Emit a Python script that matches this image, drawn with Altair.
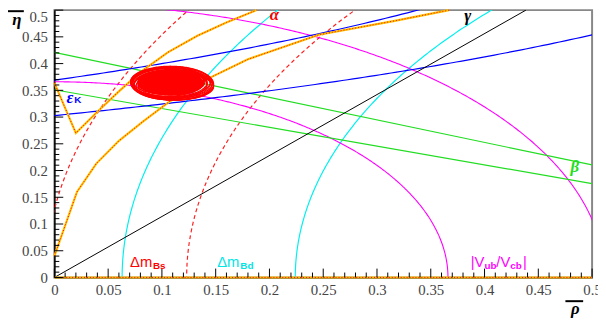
import altair as alt
import numpy as np
import pandas as pd

W, H = 545, 271

# ---- constraint parameters ----
DMD_RADII = [0.937, 0.776]          # cyan circles centred on (1, 0)
DMS_RADII = [1.008, 0.877]          # red dashed circles centred on (1, 0)
VUB_RADII = [0.366, 0.5116]         # magenta circles centred on (0, 0)
BETA_INTERCEPTS = [0.421, 0.351]    # green lines through (1, 0): eta at rho = 0
GAMMA_RHO_AT_TOP = [0.4385]         # black line from origin reaching eta = 0.5
EPSK_A = [1.29, 1.503]              # blue hyperbolas eta = b / (a - rho)
EPSK_B = [0.476, 0.455]

ALPHA_A_RHO = [0.0, 0.020, 0.040, 0.060, 0.080, 0.1055, 0.133, 0.160, 0.188]
ALPHA_A_ETA = [0.364, 0.270, 0.310, 0.348, 0.384, 0.421, 0.452, 0.477, 0.500]
ALPHA_B_RHO = [0.0, 0.021, 0.039, 0.060, 0.0826, 0.107, 0.142, 0.180, 0.246, 0.3165, 0.367]
ALPHA_B_ETA = [0.040, 0.160, 0.213, 0.2555, 0.292, 0.329, 0.371, 0.408, 0.454, 0.480, 0.500]
ALPHA_AXIS_RHO = [0.0, 0.5]
ALPHA_AXIS_ETA = [0.0, 0.0]

# fit contours (centre rho, centre eta, half width, half height)
ELL_CX = [0.108, 0.109, 0.110, 0.111, 0.107, 0.108, 0.110, 0.106, 0.112, 0.109, 0.108, 0.108,
          0.113, 0.105, 0.110, 0.109]
ELL_CY = [0.366, 0.364, 0.362, 0.360, 0.365, 0.362, 0.359, 0.367, 0.358, 0.366, 0.364, 0.365,
          0.357, 0.366, 0.361, 0.363]
ELL_A = [0.037, 0.038, 0.038, 0.037, 0.035, 0.034, 0.036, 0.033, 0.036, 0.031, 0.028, 0.022,
         0.035, 0.034, 0.032, 0.036]
ELL_B = [0.029, 0.030, 0.030, 0.028, 0.027, 0.026, 0.027, 0.025, 0.026, 0.023, 0.021, 0.016,
         0.025, 0.027, 0.024, 0.028]
CORE = [0.108, 0.364, 0.031, 0.024]

LABEL_TICKS = [0, 0.05, 0.1, 0.15, 0.2, 0.25, 0.3, 0.35, 0.4, 0.45, 0.5]
MINOR_TICKS = [round(i * 0.01, 2) for i in range(51) if i % 5 != 0]

# labels
GREEK_TXT = ["α", "γ", "β", "ε", "η", "ρ"]
GREEK_RHO = [0.2046, 0.3844, 0.4839, 0.0144, -0.0349, 0.4844]
GREEK_ETA = [0.4815, 0.4797, 0.1974, 0.3266, 0.4723, -0.0683]
GREEK_COL = ["#ff0000", "#000000", "#22dd22", "#0000ff", "#000000", "#000000"]

MAIN_TXT = ["Δm", "Δm", "|V", "/V", "|"]
MAIN_RHO = [0.0704, 0.1514, 0.3872, 0.4110, 0.4358]
MAIN_ETA = [0.0197, 0.0197, 0.0197, 0.0197, 0.0197]
MAIN_COL = ["#ff0000", "#00e5e5", "#ff00ff", "#ff00ff", "#ff00ff"]

SUB_TXT = ["K", "Bs", "Bd", "ub", "cb"]
SUB_RHO = [0.0184, 0.0917, 0.1729, 0.4000, 0.4239]
SUB_ETA = [0.3257, 0.0157, 0.0157, 0.0157, 0.0157]
SUB_COL = ["#0000ff", "#ff0000", "#00e5e5", "#ff00ff", "#ff00ff"]

BAR_RHO = [-0.044, 0.4752]
BAR_RHO2 = [-0.0284, 0.4917]
BAR_ETA = [0.498, -0.0443]

# ---- build curve tables ----
def rows(cid, xs, ys):
    return pd.DataFrame({"id": cid, "i": np.arange(len(xs)), "rho": xs, "eta": ys})

t_left = np.linspace(np.pi / 2, np.pi, 300)
t_q1 = np.linspace(0, np.pi / 2, 300)
t_full = np.linspace(0, 2 * np.pi, 200)

cyan = pd.concat([rows(k, 1 + r * np.cos(t_left), r * np.sin(t_left)) for k, r in enumerate(DMD_RADII)])
reddash = pd.concat([rows(k, 1 + r * np.cos(t_left), r * np.sin(t_left)) for k, r in enumerate(DMS_RADII)])
magenta = pd.concat([rows(k, r * np.cos(t_q1), r * np.sin(t_q1)) for k, r in enumerate(VUB_RADII)])
green = pd.concat([rows(k, np.array([0.0, 0.5]), np.array([b, b / 2])) for k, b in enumerate(BETA_INTERCEPTS)])
black = pd.concat([rows(k, np.array([0.0, g]), np.array([0.0, 0.5])) for k, g in enumerate(GAMMA_RHO_AT_TOP)])
rr = np.linspace(0, 0.5, 100)
blue = pd.concat([rows(k, rr, b / (a - rr)) for k, (a, b) in enumerate(zip(EPSK_A, EPSK_B))])
alpha = pd.concat([
    rows(0, np.array(ALPHA_A_RHO), np.array(ALPHA_A_ETA)),
    rows(1, np.array(ALPHA_B_RHO), np.array(ALPHA_B_ETA)),
    rows(2, np.array(ALPHA_AXIS_RHO), np.array(ALPHA_AXIS_ETA)),
])
ell = pd.concat([rows(k, cx + a * np.cos(t_full), cy + b * np.sin(t_full))
                 for k, (cx, cy, a, b) in enumerate(zip(ELL_CX, ELL_CY, ELL_A, ELL_B))])
tc = np.linspace(np.pi, 0, 120)
core = pd.DataFrame({
    "rho": CORE[0] + CORE[2] * np.cos(tc),
    "lo": CORE[1] - CORE[3] * np.sin(tc),
    "hi": CORE[1] + CORE[3] * np.sin(tc),
})

greek = pd.DataFrame({"t": GREEK_TXT, "rho": GREEK_RHO, "eta": GREEK_ETA, "c": GREEK_COL})
mainlab = pd.DataFrame({"t": MAIN_TXT, "rho": MAIN_RHO, "eta": MAIN_ETA, "c": MAIN_COL})
sublab = pd.DataFrame({"t": SUB_TXT, "rho": SUB_RHO, "eta": SUB_ETA, "c": SUB_COL})
bars = pd.DataFrame({"rho": BAR_RHO, "rho2": BAR_RHO2, "eta": BAR_ETA})
major = pd.DataFrame({"v": LABEL_TICKS})
minor = pd.DataFrame({"v": MINOR_TICKS})

xs = alt.Scale(domain=[0, 0.5], nice=False, zero=False)
ys = alt.Scale(domain=[0, 0.5], nice=False, zero=False)

LABEL_FONT = "Liberation Serif"

x_main = alt.Axis(orient="bottom", values=LABEL_TICKS, format="~g", ticks=False, grid=False,
                  domainColor="black", domainWidth=1, labelFont=LABEL_FONT, labelFontSize=15,
                  labelColor="#444444", labelPadding=5, title=None, labelFlush=False,
                  labelOverlap=False, labelBound=False)
y_main = alt.Axis(orient="left", values=LABEL_TICKS, format="~g", ticks=False, grid=False,
                  domainColor="black", domainWidth=1.5, labelFont=LABEL_FONT, labelFontSize=15,
                  labelColor="#444444", labelPadding=7, title=None, labelFlush=False,
                  labelOverlap=False, labelBound=False,
                  labelBaseline={"condition": {"test": "datum.value > 0.49", "value": "top"},
                                 "value": "middle"})


def lines(df, color, width=1.0, dash=None, clip=True, xaxis=None, yaxis=None):
    kw = dict(color=color, strokeWidth=width, clip=clip)
    if dash:
        kw["strokeDash"] = dash
    return alt.Chart(df).mark_line(**kw).encode(
        x=alt.X("rho:Q", scale=xs, axis=xaxis),
        y=alt.Y("eta:Q", scale=ys, axis=yaxis),
        detail="id:N",
        order="i:Q",
    )


def xticks(df, length):
    return alt.Chart(df).mark_rule(color="black", strokeWidth=1).encode(
        x=alt.X("v:Q", scale=xs, axis=None), y=alt.value(H), y2=alt.value(H - length))


def yticks(df, length):
    return alt.Chart(df).mark_rule(color="black", strokeWidth=1).encode(
        y=alt.Y("v:Q", scale=ys, axis=None), x=alt.value(0), x2=alt.value(length))


L_cyan = lines(cyan, "#00f0f0", 1.2, xaxis=x_main, yaxis=y_main)
L_red = lines(reddash, "#ff2020", 1.2, dash=[4, 3])
L_mag = lines(magenta, "#ff00ff", 1.1)
L_green = lines(green, "#22dd22", 1.2)
L_blue = lines(blue, "#0000ff", 1.2)
L_black = lines(black, "#000000", 1.0)
L_alpha1 = lines(alpha, "#ffc000", 2.2, clip=False)
L_alpha2 = lines(alpha, "#ff0000", 1.0, dash=[1, 2], clip=False)
L_ell = lines(ell, "#ff0000", 1.3)
A_core = alt.Chart(core).mark_area(color="#ff0000", clip=True).encode(
    x=alt.X("rho:Q", scale=xs, axis=None),
    y=alt.Y("lo:Q", scale=ys, axis=None),
    y2="hi:Q",
)

T_greek = alt.Chart(greek).mark_text(font=LABEL_FONT, fontSize=17, fontStyle="italic",
                                     fontWeight="bold", align="center", baseline="alphabetic").encode(
    x=alt.X("rho:Q", scale=xs, axis=None), y=alt.Y("eta:Q", scale=ys, axis=None),
    text="t:N", color=alt.Color("c:N", scale=None))
T_main = alt.Chart(mainlab).mark_text(font="Liberation Sans", fontSize=15, align="left",
                                      baseline="alphabetic").encode(
    x=alt.X("rho:Q", scale=xs, axis=None), y=alt.Y("eta:Q", scale=ys, axis=None),
    text="t:N", color=alt.Color("c:N", scale=None))
T_sub = alt.Chart(sublab).mark_text(font="Liberation Sans", fontSize=10, fontWeight="bold",
                                    align="left", baseline="alphabetic").encode(
    x=alt.X("rho:Q", scale=xs, axis=None), y=alt.Y("eta:Q", scale=ys, axis=None),
    text="t:N", color=alt.Color("c:N", scale=None))
R_bars = alt.Chart(bars).mark_rule(color="black", strokeWidth=2).encode(
    x=alt.X("rho:Q", scale=xs, axis=None), x2="rho2:Q",
    y=alt.Y("eta:Q", scale=ys, axis=None))

chart = alt.layer(
    L_cyan, L_red, L_mag, L_green, L_blue, L_black, L_alpha1, L_alpha2, A_core, L_ell,
    xticks(major, 9), xticks(minor, 5), yticks(major, 9), yticks(minor, 5),
    T_greek, T_main, T_sub, R_bars,
).resolve_axis(x="independent", y="independent").properties(
    width=W, height=H,
    autosize=alt.AutoSizeParams(type="none"),
    padding={"left": 47, "top": 0, "right": 6, "bottom": 45},
).configure_view(stroke="#888888", strokeWidth=2)

chart.save("out.html", embed_options={"renderer": "svg", "actions": False})
